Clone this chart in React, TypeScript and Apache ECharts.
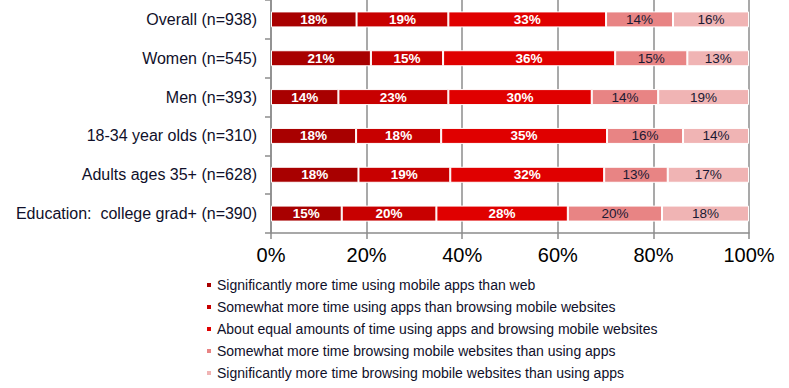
import React, { useEffect, useRef } from "react";
import * as echarts from "echarts";

const categories = [
  "Overall (n=938)",
  "Women (n=545)",
  "Men (n=393)",
  "18-34 year olds (n=310)",
  "Adults ages 35+ (n=628)",
  "Education:  college grad+ (n=390)",
];

const seriesNames = [
  "Significantly more time using mobile apps than web",
  "Somewhat more time using apps than browsing mobile websites",
  "About equal amounts of time using apps and browsing mobile websites",
  "Somewhat more time browsing mobile websites than using apps",
  "Significantly more time browsing mobile websites than using apps",
];

const sigMoreApps = [17.9, 20.9, 14.1, 17.8, 18.3, 14.8];
const someMoreApps = [19.2, 15.1, 23.0, 17.8, 19.2, 19.8];
const aboutEqual = [33.0, 36.0, 30.0, 34.7, 32.2, 27.5];
const someMoreWeb = [14.0, 15.1, 13.9, 15.9, 13.3, 19.7];
const sigMoreWeb = [15.9, 12.9, 19.0, 13.8, 17.0, 18.2];

const seriesValues = [sigMoreApps, someMoreApps, aboutEqual, someMoreWeb, sigMoreWeb];
const colors = ["#A80000", "#C80000", "#E00000", "#E88484", "#F0B4B4"];
const labelColors = ["#ffffff", "#ffffff", "#ffffff", "#1a1a33", "#1a1a33"];

const xTicks = { min: 0, max: 100, interval: 20 };

const FONT = "'Liberation Sans', Arial, sans-serif";

export default function App() {
  const ref = useRef<HTMLDivElement>(null);
  useEffect(() => {
    if (!ref.current) return;
    const chart = echarts.init(ref.current, undefined, { renderer: "svg" });
    chart.setOption({
      animation: false,
      backgroundColor: "#ffffff",
      textStyle: { fontFamily: FONT },
      grid: { left: 271, top: -2, width: 478, height: 235, containLabel: false },
      xAxis: {
        type: "value",
        min: xTicks.min,
        max: xTicks.max,
        interval: xTicks.interval,
        axisLine: { show: true, lineStyle: { color: "#8c8c8c", width: 1.5 } },
        axisTick: { show: true, length: 6, lineStyle: { color: "#8c8c8c", width: 1.5 } },
        axisLabel: {
          formatter: "{value}%",
          fontSize: 20,
          color: "#000000",
          margin: 12,
          fontFamily: FONT,
        },
        splitLine: { show: true, lineStyle: { color: "#8c8c8c", width: 1.5 } },
      },
      yAxis: {
        type: "category",
        data: categories,
        inverse: true,
        axisLine: { show: true, lineStyle: { color: "#8c8c8c", width: 1.5 } },
        axisTick: { show: true, length: 6, lineStyle: { color: "#8c8c8c", width: 1.5 } },
        axisLabel: { fontSize: 16, color: "#10102a", margin: 14, fontFamily: FONT },
      },
      legend: {
        orient: "vertical",
        left: 205,
        top: 277,
        padding: 0,
        itemWidth: 6,
        itemHeight: 6,
        itemGap: 6,
        icon: "rect",
        textStyle: { fontSize: 14, color: "#10102a", lineHeight: 16, fontFamily: FONT },
        data: seriesNames,
      },
      series: seriesNames.map((name, i) => ({
        name,
        type: "bar",
        stack: "total",
        barWidth: 16,
        data: seriesValues[i],
        itemStyle: { color: colors[i], borderColor: "#ffffff", borderWidth: 1 },
        label: {
          show: true,
          position: "inside",
          formatter: (p: any) => Math.round(p.value) + "%",
          color: labelColors[i],
          fontSize: 13.5,
          fontWeight: i < 3 ? "bold" : "normal",
          fontFamily: FONT,
        },
      })),
    });
    return () => chart.dispose();
  }, []);
  return (
    <div
      ref={ref}
      style={{ position: "fixed", left: 0, top: 0, width: 789, height: 388 }}
    />
  );
}
